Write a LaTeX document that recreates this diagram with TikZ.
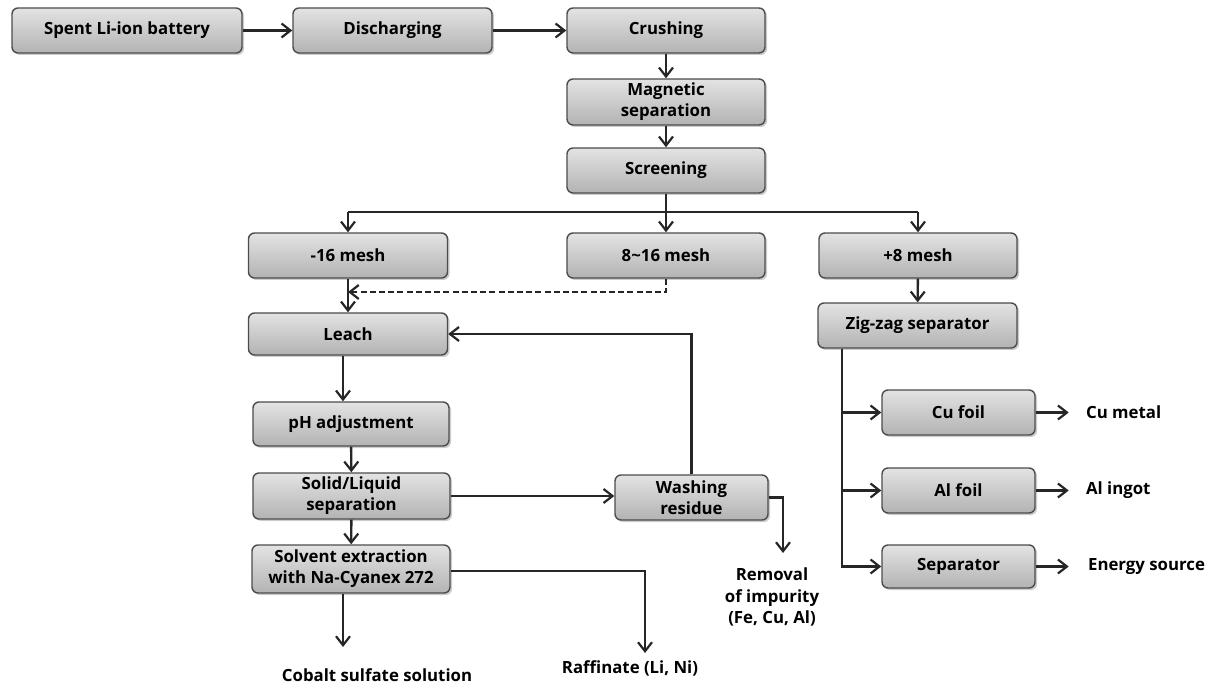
\documentclass[tikz,border=0pt]{standalone}
\usepackage{fontspec}
\setmainfont{Open Sans}
\usetikzlibrary{arrows.meta,shadows,calc}
\begin{document}
\begin{tikzpicture}[x=0.5pt,y=-0.5pt,
  txt/.style={font=\bfseries\fontsize{8.4}{10.6}\selectfont, text=black},
  box/.style={txt, draw=black!70, line width=0.7pt, rounded corners=3pt,
    top color=gray!22, bottom color=gray!60,
    drop shadow={shadow xshift=1pt, shadow yshift=-1pt, opacity=0.4},
    align=center, inner sep=0pt},
  colbox/.style={box, minimum width=99pt, minimum height=22.5pt},
  smallbox/.style={box, minimum width=76.5pt, minimum height=22.5pt},
  lbl/.style={txt, align=center, inner sep=0pt},
  ln/.style={line width=1.2pt, draw=black!85},
  arr/.style={ln, -{Straight Barb[length=4.5pt,width=7pt,line width=1.1pt]}}]
\useasboundingbox (0,0) rectangle (1214,689);

% top row
\node[box, minimum width=115pt, minimum height=22.5pt] (spent) at (127,30.5) {Spent Li-ion battery};
\node[colbox, minimum width=99.5pt] (disch) at (392.5,30.5) {Discharging};
\node[colbox] (crush) at (666,30.5) {Crushing};
\node[colbox, minimum height=23pt] (magn) at (666,102) {Magnetic\\separation};
\node[colbox] (screen) at (666,170.5) {Screening};

% mesh row
\node[colbox, minimum width=99.5pt] (m16) at (348,255.5) {-16 mesh};
\node[colbox] (m816) at (666,255.5) {8\textasciitilde16 mesh};
\node[colbox] (p8) at (918,255.5) {+8 mesh};

% left column
\node[colbox, minimum width=99.5pt, minimum height=21pt] (leach) at (348,334) {Leach};
\node[colbox, minimum width=98pt, minimum height=22pt] (ph) at (351,424) {pH adjustment};
\node[colbox, minimum width=98.5pt, minimum height=23pt] (sl) at (351.5,496) {Solid/Liquid\\separation};
\node[colbox, minimum width=99pt, minimum height=24pt] (solv) at (351,569) {Solvent extraction\\with Na-Cyanex 272};
\node[smallbox] (wash) at (691.5,497.5) {Washing\\residue};

% right column
\node[colbox, minimum width=99.5pt] (zig) at (917.5,325.5) {Zig-zag separator};
\node[smallbox] (cu) at (958.5,412.5) {Cu foil};
\node[smallbox] (al) at (958.5,490.5) {Al foil};
\node[smallbox, minimum height=21.5pt] (sep) at (958.5,566.5) {Separator};

% free text
\node[lbl, anchor=west, inner xsep=8.5pt] (cumetal) at ([xshift=16.5pt]cu.east) {Cu metal};
\node[lbl, anchor=west, inner xsep=8.5pt] (alingot) at ([xshift=16.5pt]al.east) {Al ingot};
\node[lbl, anchor=west, inner xsep=9.5pt] (energy) at ([xshift=16.5pt]sep.east) {Energy source};
\node[lbl] (cobalt) at (377,675) {Cobalt sulfate solution};
\node[lbl] (raff) at (630,668) {Raffinate (Li, Ni)};
\node[lbl, font=\bfseries\fontsize{8.4}{10.9}\selectfont] (removal) at (772,597) {Removal\\of impurity\\(Fe, Cu, Al)};

% coordinates
\coordinate (sp) at (666,212);
\coordinate (dsh) at (0,292);
\coordinate (remt) at (783,553);
\coordinate (rafft) at (645,653);
\coordinate (cobt) at (343,647);
\coordinate (zv) at (842,0);

% connectors
\draw[arr] (spent) -- (disch);
\draw[arr] (disch) -- (crush);
\draw[arr] (crush) -- (magn);
\draw[arr] (magn) -- (screen);
\draw[ln] (screen.south) -- (sp);
\draw[ln] (m16.north |- sp) -- (p8.north |- sp);
\draw[arr] (m16.north |- sp) -- (m16.north);
\draw[arr] (sp) -- (m816.north);
\draw[arr] (p8.north |- sp) -- (p8.north);
\draw[arr] (m16) -- (leach);
\draw[arr, line width=1pt, dash pattern=on 3pt off 1.6pt] (m816.south) |- (m16.south |- dsh);
\draw[arr] ([xshift=-2.5pt]leach.south) -- ([xshift=-2.5pt]leach.south |- ph.north);
\draw[arr] (ph) -- (sl);
\draw[arr] (sl) -- (solv);
\draw[arr] (sl.east) -- (sl.east -| wash.west);
\draw[arr] (wash.north) |- (leach.east);
\draw[arr] (wash.east) -| (remt);
\draw[arr] (solv.south -| cobt) -- (cobt);
\draw[arr] ([yshift=-1pt]solv.east) -| (rafft);
\draw[arr] (p8) -- (zig);
\draw[arr] (zig.south -| zv) |- (sep.west);
\draw[arr] (zig.south -| zv) |- (cu.west);
\draw[arr] (zig.south -| zv) |- (al.west);
\draw[arr] (cu) -- (cumetal);
\draw[arr] (al) -- (alingot);
\draw[arr] (sep) -- (energy);
\end{tikzpicture}
\end{document}
